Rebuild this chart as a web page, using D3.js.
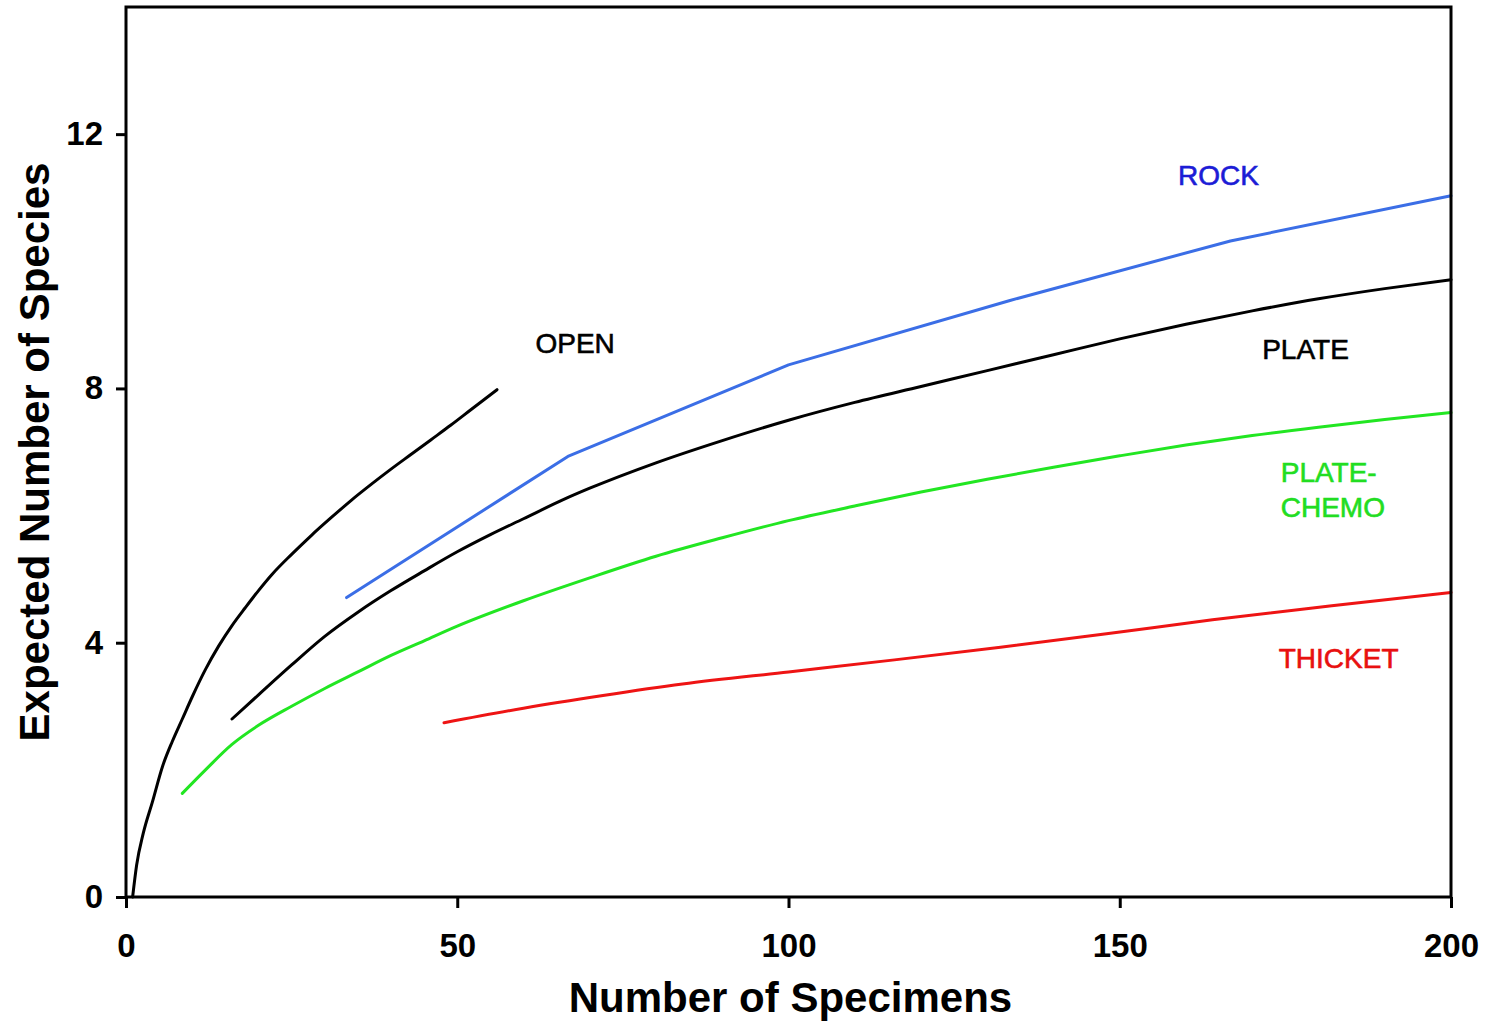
<!DOCTYPE html>
<html>
<head>
<meta charset="utf-8">
<script src="https://cdn.jsdelivr.net/npm/d3@7"></script>
<style>
  html, body { margin: 0; padding: 0; background: #fff; }
  svg { display: block; font-family: "Liberation Sans", Arial, sans-serif; }
</style>
</head>
<body>
<svg id="chart" width="1486" height="1024"></svg>
<script>
// ---- data ----
const xTicks = [0, 50, 100, 150, 200];
const yTicks = [0, 4, 8, 12];

const openX  = [1, 1.6, 2.6, 4, 5.5, 7, 8.5, 10, 12, 14, 16, 18, 20, 22, 25, 28, 31, 34, 37, 40, 43, 46, 49, 52, 56];
const openY  = [0, 0.5, 1.0, 1.5, 2.05, 2.45, 2.8, 3.15, 3.58, 3.95, 4.27, 4.55, 4.82, 5.07, 5.39, 5.69, 5.97, 6.24, 6.49, 6.73, 6.96, 7.19, 7.42, 7.66, 7.98];

const plateX = [16, 20, 25, 30, 35, 40, 45, 50, 55, 60, 66, 70, 80, 90, 100, 110, 120, 130, 140, 150, 160, 170, 180, 190, 200];
const plateY = [2.8, 3.18, 3.65, 4.1, 4.48, 4.82, 5.13, 5.43, 5.7, 5.95, 6.25, 6.43, 6.83, 7.18, 7.5, 7.78, 8.03, 8.28, 8.53, 8.78, 9.01, 9.22, 9.41, 9.57, 9.71];

const rockX  = [33.3, 66.7, 100, 133.3, 166.7, 200];
const rockY  = [4.71, 6.93, 8.37, 9.38, 10.32, 11.03];

const chemoX = [8.5, 12, 16, 20, 25, 30, 35, 40, 45, 50, 60, 70, 80, 90, 100, 110, 120, 130, 140, 150, 160, 170, 180, 190, 200];
const chemoY = [1.63, 2.0, 2.4, 2.7, 3.0, 3.28, 3.54, 3.8, 4.03, 4.26, 4.66, 5.02, 5.36, 5.65, 5.92, 6.15, 6.37, 6.57, 6.76, 6.94, 7.11, 7.26, 7.39, 7.51, 7.62];

const thicketX = [48, 60, 72, 84, 100, 116, 132, 148, 164, 182, 200];
const thicketY = [2.74, 2.97, 3.17, 3.35, 3.54, 3.73, 3.93, 4.14, 4.36, 4.58, 4.79];

const seriesNames = ["OPEN", "PLATE", "ROCK", "PLATE-CHEMO", "THICKET"];

// ---- layout ----
const svg = d3.select("#chart");
const L = 126, R = 1451, T = 7, B = 897;
const x = d3.scaleLinear().domain([0, 200]).range([L, R]);
const y = d3.scaleLinear().domain([0, 14]).range([B, T]);

const series = [
  { name: seriesNames[0], xs: openX, ys: openY, color: "#000000", curve: d3.curveMonotoneX },
  { name: seriesNames[1], xs: plateX, ys: plateY, color: "#000000", curve: d3.curveMonotoneX },
  { name: seriesNames[2], xs: rockX, ys: rockY, color: "#3b6ee6", curve: d3.curveLinear },
  { name: seriesNames[3], xs: chemoX, ys: chemoY, color: "#22e622", curve: d3.curveMonotoneX },
  { name: seriesNames[4], xs: thicketX, ys: thicketY, color: "#ee1414", curve: d3.curveMonotoneX }
];

svg.append("g").selectAll("path").data(series).join("path")
  .attr("d", s => d3.line().x(d => x(d[0])).y(d => y(d[1])).curve(s.curve)(s.xs.map((v, i) => [v, s.ys[i]])))
  .attr("fill", "none")
  .attr("stroke", s => s.color)
  .attr("stroke-width", 3)
  .attr("stroke-linejoin", "round")
  .attr("stroke-linecap", "round");

// axes
const yAxis = svg.append("g").attr("transform", `translate(${L},0)`)
  .call(d3.axisLeft(y).tickValues(yTicks).tickSize(10).tickPadding(13).tickFormat(d3.format("d")));
const xAxis = svg.append("g").attr("transform", `translate(0,${B})`)
  .call(d3.axisBottom(x).tickValues(xTicks).tickSize(11).tickPadding(26).tickFormat(d3.format("d")));
[yAxis, xAxis].forEach(g => {
  g.select(".domain").remove();
  g.selectAll(".tick line").attr("stroke", "#000").attr("stroke-width", 3);
  g.selectAll(".tick text").attr("fill", "#000")
    .style("font-family", '"Liberation Sans", Arial, sans-serif')
    .style("font-size", "33px").style("font-weight", "bold");
});

// frame
svg.append("rect")
  .attr("x", L).attr("y", T).attr("width", R - L).attr("height", B - T)
  .attr("fill", "none").attr("stroke", "#000").attr("stroke-width", 3);

// axis titles
svg.append("text")
  .attr("x", (L + R) / 2 + 2).attr("y", 1012)
  .attr("text-anchor", "middle")
  .style("font-size", "42px").style("font-weight", "bold")
  .text("Number of Specimens");

svg.append("text")
  .attr("transform", `translate(49,${(T + B) / 2}) rotate(-90)`)
  .attr("text-anchor", "middle")
  .style("font-size", "42px").style("font-weight", "bold")
  .text("Expected Number of Species");

// series labels (positioned in data units)
const labels = [
  { lines: ["OPEN"], at: [61.8, 8.56], color: "#000000" },
  { lines: ["ROCK"], at: [158.8, 11.2], color: "#1c1cd6" },
  { lines: ["PLATE"], at: [171.5, 8.47], color: "#000000" },
  { lines: ["PLATE-", "CHEMO"], at: [174.3, 6.53], color: "#22dd22" },
  { lines: ["THICKET"], at: [174.0, 3.6], color: "#e81010" }
];
labels.forEach(lb => {
  const t = svg.append("text")
    .attr("x", x(lb.at[0])).attr("y", y(lb.at[1]))
    .attr("fill", lb.color)
    .attr("stroke", lb.color).attr("stroke-width", 0.6)
    .style("font-size", "28px");
  lb.lines.forEach((s, i) => {
    t.append("tspan").attr("x", x(lb.at[0])).attr("dy", i === 0 ? 0 : 35).text(s);
  });
});
</script>
</body>
</html>
